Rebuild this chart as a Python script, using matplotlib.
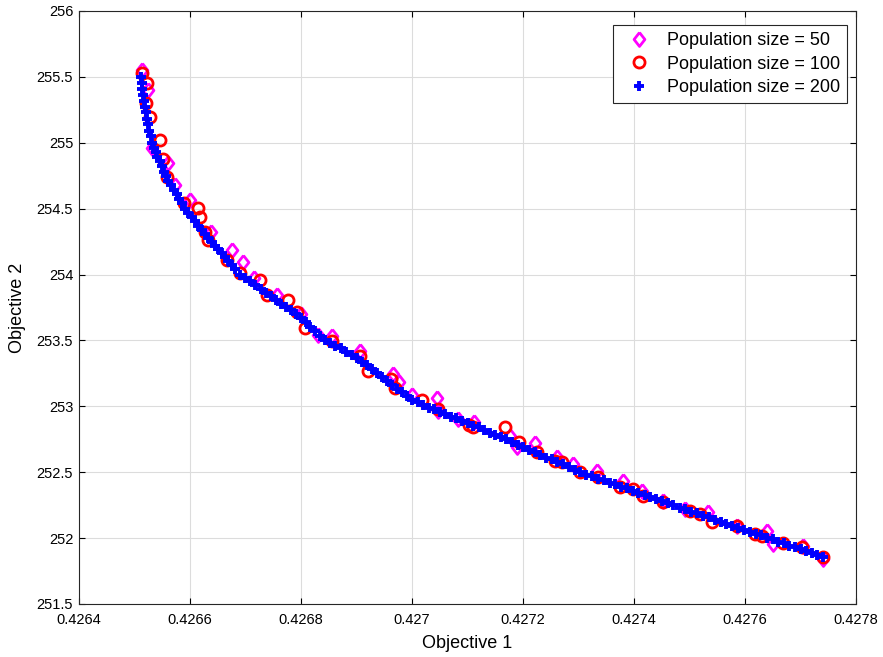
import matplotlib.pyplot as plt
from matplotlib.ticker import FormatStrFormatter, MultipleLocator

plt.rcParams['font.family'] = ['Liberation Sans', 'DejaVu Sans']

# population size = 200 (dense front)
x200 = [0.426512, 0.426513, 0.426514, 0.426515, 0.426517, 0.426518, 0.426520, 0.426522, 0.426524, 0.426526, 0.426529, 0.426532,
        0.426535, 0.426538, 0.426541, 0.426545, 0.426549, 0.426553, 0.426557, 0.426561, 0.426566, 0.426571, 0.426576, 0.426581, 0.426586, 0.426591,
        0.426597, 0.426603, 0.426609, 0.426615, 0.426621, 0.426627, 0.426633, 0.426639, 0.426645, 0.426651, 0.426657, 0.426663, 0.426669, 0.426675, 0.426681, 0.426690,
        0.426699, 0.426708, 0.426717, 0.426727, 0.426736, 0.426745, 0.426754, 0.426763, 0.426773, 0.426782, 0.426791, 0.426800,
        0.426809, 0.426817, 0.426826, 0.426834, 0.426843,
        0.426853, 0.426862, 0.426872, 0.426881, 0.426891, 0.426900,
        0.426909, 0.426918, 0.426927, 0.426936, 0.426945, 0.426955, 0.426964, 0.426973, 0.426982, 0.426991, 0.427000,
        0.427010, 0.427020, 0.427030, 0.427040, 0.427050, 0.427060, 0.427070, 0.427080, 0.427090, 0.427100, 0.427110, 0.427120, 0.427130, 0.427140, 0.427150, 0.427160, 0.427170,
        0.427180, 0.427190, 0.427200, 0.427211, 0.427221, 0.427231, 0.427242, 0.427252, 0.427262, 0.427272, 0.427283, 0.427293, 0.427303,
        0.427314, 0.427324, 0.427335, 0.427345, 0.427356, 0.427366, 0.427377, 0.427387, 0.427398, 0.427408, 0.427419, 0.427429, 0.427440, 0.427450, 0.427461, 0.427471,
        0.427482, 0.427492, 0.427503, 0.427513, 0.427524, 0.427535, 0.427545, 0.427556, 0.427566, 0.427577, 0.427587, 0.427598, 0.427608, 0.427619, 0.427629, 0.427640,
        0.427650, 0.427660, 0.427670, 0.427680, 0.427690, 0.427700, 0.427710, 0.427720, 0.427730, 0.427741]
y200 = [255.50, 255.45, 255.41, 255.36, 255.32, 255.27, 255.23, 255.18, 255.14, 255.09, 255.05, 255.00,
        254.96, 254.93, 254.89, 254.86, 254.82, 254.78, 254.75, 254.71, 254.68, 254.64, 254.61, 254.57, 254.54, 254.50,
        254.47, 254.44, 254.41, 254.37, 254.34, 254.31, 254.28, 254.25, 254.22, 254.19, 254.16, 254.13, 254.10, 254.07, 254.04, 254.00,
        253.97, 253.95, 253.92, 253.89, 253.86, 253.84, 253.81, 253.78, 253.75, 253.73, 253.70, 253.67,
        253.64, 253.60, 253.57, 253.53, 253.50,
        253.48, 253.46, 253.44, 253.41, 253.39, 253.37,
        253.34, 253.31, 253.28, 253.25, 253.22, 253.19, 253.16, 253.13, 253.11, 253.08, 253.05,
        253.03, 253.01, 252.99, 252.98, 252.96, 252.94, 252.92, 252.91, 252.89, 252.87, 252.85, 252.84, 252.82, 252.80, 252.78, 252.77, 252.75,
        252.73, 252.71, 252.69, 252.67, 252.65, 252.63, 252.61, 252.60, 252.58, 252.56, 252.54, 252.52, 252.50,
        252.48, 252.47, 252.45, 252.44, 252.42, 252.41, 252.39, 252.38, 252.36, 252.34, 252.33, 252.31, 252.30, 252.28, 252.27, 252.25,
        252.23, 252.22, 252.20, 252.19, 252.17, 252.16, 252.14, 252.12, 252.11, 252.09, 252.08, 252.06, 252.05, 252.03, 252.02, 252.00,
        251.99, 251.97, 251.96, 251.94, 251.93, 251.92, 251.90, 251.89, 251.87, 251.86]

# population size = 100
x100 = [0.4265135, 0.4265225, 0.4265207, 0.4265279, 0.4265459, 0.4265513, 0.4265586, 0.4265892, 0.4266144, 0.4266180,
        0.4266270, 0.4266324, 0.4266667, 0.4266901, 0.4267261, 0.4267387, 0.4267766, 0.4267928, 0.4268072, 0.4268559,
        0.4269063, 0.4269207, 0.4269622, 0.4269694, 0.4270180, 0.4270468, 0.4271027, 0.4271099, 0.4271676, 0.4271928,
        0.4272252, 0.4272577, 0.4272703, 0.4273027, 0.4273351, 0.4273748, 0.4273982, 0.4274162, 0.4274523, 0.4275009,
        0.4275189, 0.4275405, 0.4275856, 0.4276180, 0.4276306, 0.4276685, 0.4277027, 0.4277405]
y100 = [255.530, 255.455, 255.303, 255.197, 255.023, 254.879, 254.742, 254.545, 254.508, 254.439,
        254.326, 254.265, 254.114, 254.015, 253.962, 253.841, 253.803, 253.712, 253.598, 253.492,
        253.379, 253.265, 253.205, 253.136, 253.045, 252.977, 252.856, 252.841, 252.841, 252.727,
        252.652, 252.583, 252.576, 252.500, 252.462, 252.386, 252.371, 252.318, 252.273, 252.205,
        252.182, 252.121, 252.091, 252.030, 252.015, 251.962, 251.932, 251.856]

# population size = 50
x50 = [0.4265135, 0.4265243, 0.4265315, 0.4265604, 0.4265730, 0.4266000, 0.4266378, 0.4266757, 0.4266955, 0.4267153,
       0.4267568, 0.4268000, 0.4268306, 0.4268559, 0.4269063, 0.4269658, 0.4269766, 0.4270000, 0.4270450, 0.4270468,
       0.4270829, 0.4271117, 0.4271766, 0.4271892, 0.4272216, 0.4272613, 0.4272901, 0.4273333, 0.4273802, 0.4274144,
       0.4274523, 0.4274919, 0.4275333, 0.4275856, 0.4276396, 0.4276505, 0.4277045, 0.4277405]
y50 = [255.553, 255.402, 254.962, 254.848, 254.682, 254.568, 254.326, 254.189, 254.098, 253.977,
       253.841, 253.697, 253.538, 253.530, 253.417, 253.242, 253.182, 253.083, 253.061, 252.962,
       252.902, 252.879, 252.773, 252.689, 252.720, 252.614, 252.561, 252.508, 252.432, 252.356,
       252.280, 252.220, 252.197, 252.091, 252.053, 251.955, 251.939, 251.841]

# matlab style diamond, a bit taller than wide
diamond = [(0, 1), (0.78, 0), (0, -1), (-0.78, 0), (0, 1)]

fig = plt.figure(figsize=(8.83, 6.57), dpi=100)
ax = fig.add_axes([0.0895, 0.0807, 0.880, 0.9026])

ax.plot(x50, y50, marker=diamond, color='magenta', mfc='none', mew=2, ms=10, ls='none', label='Population size = 50')
ax.plot(x100, y100, 'o', color='red', mfc='none', mew=2, ms=8, ls='none', label='Population size = 100')
ax.plot(x200, y200, '+', color='blue', mew=2.8, ms=7, ls='none', label='Population size = 200')

ax.set_xlim(0.4264, 0.4278)
ax.set_ylim(251.5, 256)
ax.xaxis.set_major_locator(MultipleLocator(0.0002))
ax.yaxis.set_major_locator(MultipleLocator(0.5))
ax.xaxis.set_major_formatter(FormatStrFormatter('%g'))
ax.yaxis.set_major_formatter(FormatStrFormatter('%g'))
ax.grid(True, color='#dcdcdc', lw=0.8)
ax.set_axisbelow(True)
ax.tick_params(direction='in', top=True, right=True, labelsize=10.5, length=4)
ax.tick_params(axis='x', pad=6.5)
ax.tick_params(axis='y', pad=4.2)
for s in ax.spines.values():
    s.set_color('#262626')
    s.set_linewidth(0.8)
ax.set_xlabel('Objective 1', fontsize=13, labelpad=6)
ax.set_ylabel('Objective 2', fontsize=13, labelpad=8)

leg = ax.legend(loc='upper right', bbox_to_anchor=(1 - 9 / 777, 1 - 14 / 593), borderaxespad=0,
                fontsize=13, fancybox=False, edgecolor='#262626', framealpha=1,
                handlelength=2.0, handletextpad=0.55, labelspacing=0.35, borderpad=0.4)
leg.get_frame().set_linewidth(0.8)

fig.savefig('out.png', dpi=100)
